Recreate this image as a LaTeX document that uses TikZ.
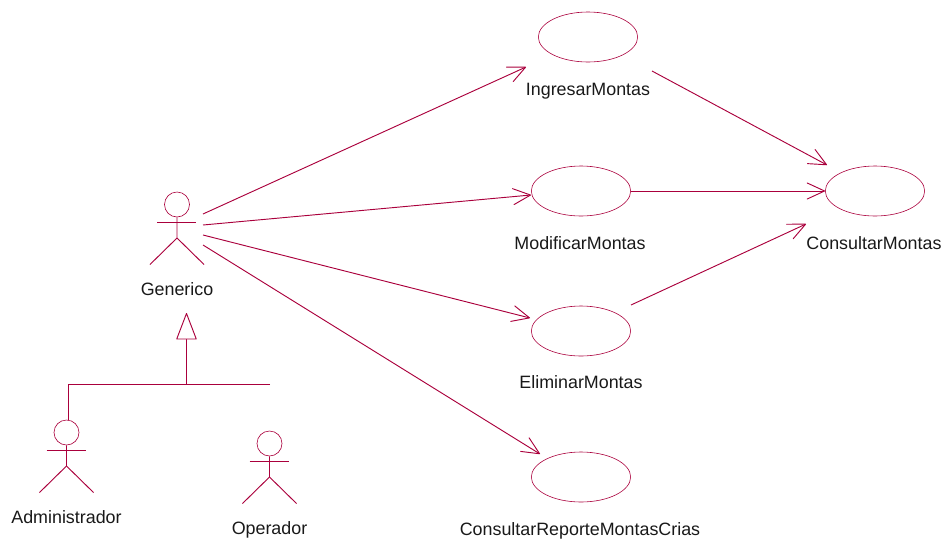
\documentclass[tikz,border=0pt]{standalone}
\usepackage{fontspec}
\setmainfont{Liberation Sans}
\usetikzlibrary{shapes.geometric,arrows.meta}

\newcommand{\actorfig}[4]{
    \begin{scope}[shift={(#2,#3)}]
        \node[head] (#1) at (0,0) {};
        \draw[umlline] (#1.south) -- (0,33.5) -- (-27,60);
        \draw[umlline] (0,33.5) -- (27,60);
        \draw[umlline] (-20,18) -- (19,18);
        \node[lbl] (#1-label) at (0,91) {#4};
    \end{scope}
}

\begin{document}
\begin{tikzpicture}[x=.75pt,y=-.75pt,
        umlline/.style={draw=umlred,line width=.7pt},
        flow/.style={umlline,-{Straight Barb[length=13pt,width=12pt,line width=.7pt,round=false]}},
        head/.style={shape=circle,draw=umlred,line width=.45pt,minimum size=18.75pt,inner sep=0pt},
        usecase/.style={shape=ellipse,draw=umlred,line width=.45pt,minimum width=74.5pt,minimum height=37.5pt,inner sep=0pt},
        lbl/.style={font=\fontsize{13.4pt}{16pt}\selectfont,text=black!90,inner sep=0pt,anchor=base}]
    \definecolor{umlred}{RGB}{170,0,60}
    \useasboundingbox (0,0) rectangle (943,540);

    % actors
    \actorfig{generico}{177}{204.5}{Generico}
    \actorfig{administrador}{66.5}{432.5}{Administrador}
    \actorfig{operador}{269.5}{443.5}{Operador}

    % use cases
    \node[usecase] (ingresar) at (588,37) {};
    \node[usecase] (modificar) at (581,191) {};
    \node[usecase] (eliminar) at (581,331) {};
    \node[usecase] (reporte) at (581,477) {};
    \node[usecase] (consultar) at (875,191) {};
    \node[lbl] (ingresar-label) at (588,95) {IngresarMontas};
    \node[lbl] (modificar-label) at (580,249) {ModificarMontas};
    \node[lbl] (eliminar-label) at (581,388) {EliminarMontas};
    \node[lbl] (reporte-label) at (580,535) {ConsultarReporteMontasCrias};
    \node[lbl] (consultar-label) at (874,249) {ConsultarMontas};

    % free ends
    \coordinate (out-a) at (203,214);
    \coordinate (out-b) at (203,225);
    \coordinate (out-c) at (203,235);
    \coordinate (out-d) at (203,245);
    \coordinate (in-a) at (526,67);
    \coordinate (in-b) at (531,195);
    \coordinate (in-c) at (530,318);
    \coordinate (in-d) at (540,454);
    \coordinate (from-ingresar) at (652,71);
    \coordinate (to-top) at (827,165);
    \coordinate (from-eliminar) at (631,305);
    \coordinate (to-low) at (806,224);
    \coordinate (tip) at (186.5,313);
    \coordinate (bar) at (186.5,384.5);
    \coordinate (bar-start) at (68.5,384.5);
    \coordinate (bar-end) at (270,384.5);

    \draw[flow] (out-a) -- (in-a);
    \draw[flow] (out-b) -- (in-b);
    \draw[flow] (out-c) -- (in-c);
    \draw[flow] (out-d) -- (in-d);
    \draw[flow] (from-ingresar) -- (to-top);
    \draw[flow] (modificar.east) -- (consultar.west);
    \draw[flow] (from-eliminar) -- (to-low);

    % generalization
    \draw[umlline] (bar-end) -- (bar-start) -- (bar-start |- administrador.north);
    \draw[umlline,-{Triangle[open,fill=white,length=20.5pt,width=15.5pt,line width=.7pt,round=false]}] (bar) -- (tip);
\end{tikzpicture}
\end{document}
